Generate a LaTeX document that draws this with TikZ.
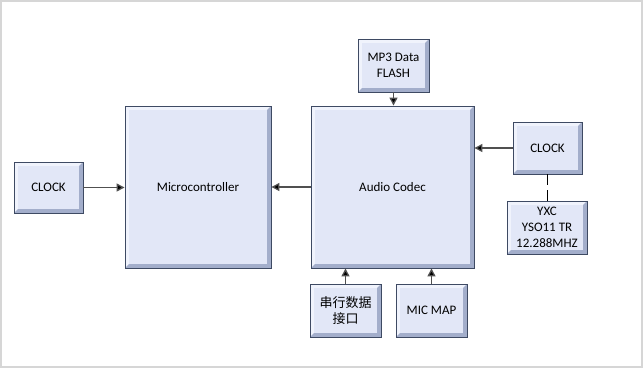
\documentclass[tikz,border=0pt]{standalone}
\usepackage{fontspec}
\setmainfont{Carlito}
\newfontfamily\cjk{Noto Sans CJK SC}
\usetikzlibrary{arrows.meta,calc}
\definecolor{frame}{HTML}{D6D6D6}
\definecolor{boxfill}{HTML}{E2E7F7}
\definecolor{boxlight}{HTML}{F0F3FC}
\definecolor{boxdark}{HTML}{A3AECB}
\definecolor{boxedge}{HTML}{3E4A63}
\definecolor{wire}{HTML}{505050}
\tikzset{
  blockbox/.style={draw=boxedge, line width=0.9pt, fill=boxfill, inner sep=0pt,
    align=center, font=\fontsize{13}{16}\selectfont, text=black,
    path picture={
      \fill[boxlight] (path picture bounding box.north west) -- (path picture bounding box.north east)
        -- ([xshift=-4pt,yshift=-4pt]path picture bounding box.north east)
        -- ([xshift=4pt,yshift=-4pt]path picture bounding box.north west)
        -- ([xshift=4pt,yshift=4pt]path picture bounding box.south west)
        -- (path picture bounding box.south west) -- cycle;
      \fill[boxdark] (path picture bounding box.south west) -- (path picture bounding box.south east)
        -- (path picture bounding box.north east)
        -- ([xshift=-4pt,yshift=-4pt]path picture bounding box.north east)
        -- ([xshift=-4pt,yshift=4pt]path picture bounding box.south east)
        -- ([xshift=4pt,yshift=4pt]path picture bounding box.south west) -- cycle;
      \fill[boxfill] ([xshift=4pt,yshift=4pt]path picture bounding box.south west)
        rectangle ([xshift=-4pt,yshift=-4pt]path picture bounding box.north east);
    }},
  flow/.style={draw=wire, line width=1.3pt, -{Triangle[length=8pt,width=8pt,fill=black]}},
  tie/.style={draw=black, line width=1.2pt, dash pattern=on 11pt off 5pt}
}
\begin{document}
\begin{tikzpicture}[x=1pt,y=-1pt]
\useasboundingbox (0,0) rectangle (643,368);
\draw[frame, line width=1.5pt] (1,1) rectangle (642,367);
\node[blockbox, minimum width=69pt, minimum height=51pt] (clockL) at (48.5,187.5) {CLOCK};
\node[blockbox, minimum width=146pt, minimum height=162pt] (micro) at (198,187) {Microcontroller};
\node[blockbox, minimum width=163pt, minimum height=162pt] (codec) at (392.5,187) {Audio Codec};
\node[blockbox, minimum width=71pt, minimum height=53pt] (mp3) at (393.5,65.5) {MP3 Data\\FLASH};
\node[blockbox, minimum width=69pt, minimum height=52pt] (clockR) at (547.5,148) {CLOCK};
\node[blockbox, minimum width=80pt, minimum height=53pt] (yxc) at (547,227.5) {YXC\\YSO11 TR\\12.288MHZ};
\node[blockbox, minimum width=71pt, minimum height=53pt] (serial) at (345.5,310.5) {\cjk 串行数据\\\cjk 接口};
\node[blockbox, minimum width=71pt, minimum height=53pt] (mic) at (431.5,310.5) {MIC MAP};
\draw[flow] (clockL.east) -- (clockL.east -| micro.west);
\draw[flow] (codec.west) -- (micro.east);
\draw[flow] (clockR.west) -- (clockR.west -| codec.east);
\draw[flow] (mp3.south) -- (mp3.south |- codec.north);
\draw[flow] (serial.north) -- (serial.north |- codec.south);
\draw[flow] (mic.north) -- (mic.north |- codec.south);
\draw[tie] (clockR.south) -- (clockR.south |- yxc.north);
\end{tikzpicture}
\end{document}
